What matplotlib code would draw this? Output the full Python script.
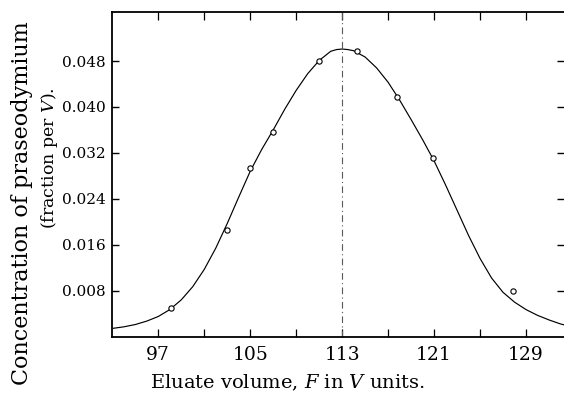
import matplotlib
matplotlib.use("Agg")
import matplotlib.pyplot as plt

# Fitted elution curve
curve_x = [93.1, 94, 95, 96, 97, 98, 99, 100, 101, 102, 103, 104, 105, 106, 107, 108,
           109, 110, 111, 112, 112.5, 113, 113.5, 114, 115, 116, 117, 118, 119, 120,
           121, 122, 123, 124, 125, 126, 127, 128, 129, 130, 131, 132, 132.4]
curve_y = [0.00145, 0.0017, 0.0021, 0.0027, 0.0035, 0.0047, 0.0064, 0.0087, 0.0117,
           0.0154, 0.0197, 0.0243, 0.0288, 0.0326, 0.0360, 0.0396, 0.0429, 0.0458,
           0.0481, 0.0497, 0.0500, 0.0501, 0.0500, 0.0498, 0.0487, 0.0468, 0.0443,
           0.0412, 0.0378, 0.0343, 0.0306, 0.0264, 0.0220, 0.0176, 0.0136, 0.0102,
           0.0077, 0.0060, 0.0047, 0.0037, 0.0029, 0.0022, 0.0020]

# Measured points
obs_x = [98.1, 103.0, 105.0, 107.0, 110.95, 114.3, 117.8, 120.9, 127.9]
obs_y = [0.0049, 0.0186, 0.0294, 0.0357, 0.0480, 0.0498, 0.0418, 0.0311, 0.0079]

peak_x = 113
xtick_major = [97, 105, 113, 121, 129]
xtick_minor = [101, 109, 117, 125]
ytick_vals = [0.008, 0.016, 0.024, 0.032, 0.040, 0.048]
ytick_labels = ["0.008", "0.016", "0.024", "0.032", "0.040", "0.048"]

plt.rcParams['font.family'] = ['DejaVu Serif']
plt.rcParams['mathtext.fontset'] = 'dejavuserif'

fig = plt.figure(figsize=(5.64, 3.94), dpi=100)
ax = fig.add_axes([0.1991, 0.1457, 0.8009, 0.8246])

ax.plot(curve_x, curve_y, color='black', lw=0.85)
ax.plot(obs_x, obs_y, linestyle='none', marker='o', markersize=3.8,
        markerfacecolor='white', markeredgecolor='black', markeredgewidth=0.8)
ax.axvline(peak_x, color='0.35', lw=0.8, linestyle=(0, (6, 3, 1, 3)))

ax.set_xlim(93.0, 132.3)
ax.set_ylim(0, 0.0566)

ax.set_xticks(xtick_major)
ax.set_xticklabels([str(v) for v in xtick_major])
ax.set_xticks(xtick_minor, minor=True)
ax.set_yticks(ytick_vals)
ax.set_yticklabels(ytick_labels)

ax.tick_params(axis='x', which='both', direction='in', top=True, bottom=True,
               length=6, width=0.9, labelsize=13.5, pad=7)
ax.tick_params(axis='y', which='both', direction='in', left=True, right=True,
               length=5, width=1.0, labelsize=11, pad=5)

for s in ['top', 'bottom', 'left']:
    ax.spines[s].set_linewidth(1.3)
ax.spines['right'].set_visible(False)

fig.text(287 / 564, 1 - 383 / 394, "Eluate volume, $\\mathit{F}$ in $\\mathit{V}$ units.",
         ha='center', va='center', fontsize=14)
fig.text(22 / 564, 1 - 203 / 394, "Concentration of praseodymium",
         rotation=90, ha='center', va='center', fontsize=16)
fig.text(50 / 564, 1 - 158 / 394, "(fraction per $\\mathit{V}$).",
         rotation=90, ha='center', va='center', fontsize=12.5)

fig.savefig("out.png", dpi=100)
